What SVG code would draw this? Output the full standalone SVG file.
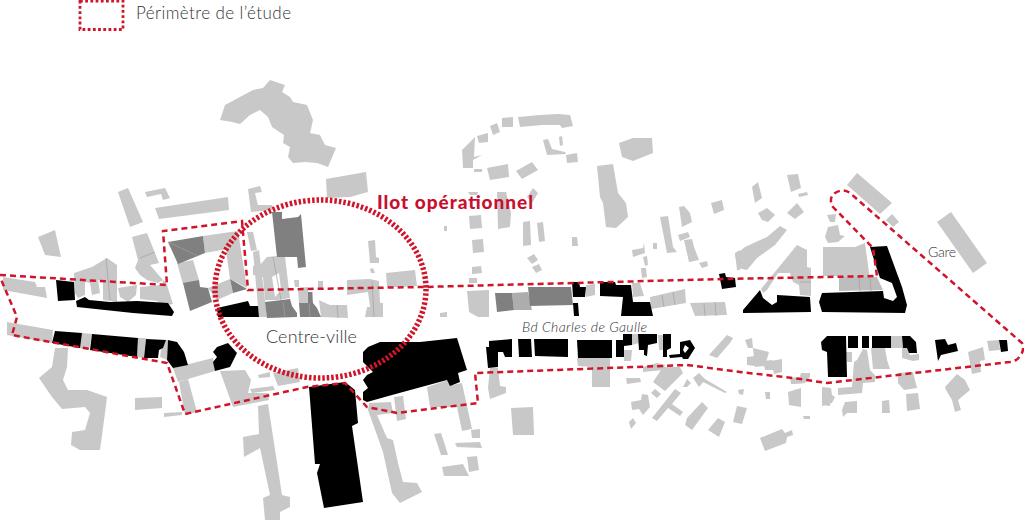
<svg xmlns="http://www.w3.org/2000/svg" width="1024" height="524" viewBox="0 0 1024 524">
<style>
.l polygon{fill:#c8c8c8}
.m polygon{fill:#808080}
.b polygon,.b path{fill:#000}
.s line{stroke:#a0a0a0;stroke-width:.7}
.t{font-family:Lato,"Open Sans","Liberation Sans",sans-serif;fill:#333;font-weight:300}
.per{fill:none;stroke:#d0142a;stroke-width:2.500;stroke-dasharray:6 4}
</style>
<rect width="1024" height="524" fill="#fff"/>
<g id="batiments-clairs" class="l">
<polygon points="270,80 285,85 282,92 290,97 293,102 307,105 313,120 310,133 320,135 325,145 336,148 328,167 317,163 305,162 293,163 288,157 290,147 283,143 284,135 272,127 268,117 260,110 250,115 240,124 232,122 220,120 225,105 253,90 263,88"/>
<polygon points="326,179 366,172 368,192 350,197 327,198"/>
<polygon points="118,192 128,188 143,222 130,227"/>
<polygon points="145,192 165,188 170,198 163,200 161,194 147,197"/>
<polygon points="155,208 228,197 229,210 159,219"/>
<polygon points="38,237 55,230 61,257 45,255"/>
<polygon points="248,189 260,186 262,192 255,193 258,205 272,205 273,210 251,212"/>
<polygon points="132,237 147,233 159,263 150,265 163,280 158,283 147,280 140,275 135,268 138,260"/>
<polygon points="74,273 92,267 107,258 117,265 117,302 103,300 103,280 98,280 100,293 92,295 90,283 85,282 85,295 78,298 75,293"/>
<polygon points="118,288 137,285 136,295 128,302 120,297"/>
<polygon points="140,287 162,285 163,280 166,282 173,304 163,306 157,301 140,299"/>
<polygon points="3,277 35,282 37,287 45,287 47,298 3,290"/>
<polygon points="7,322 53,330 52,343 7,335"/>
<polygon points="82,333 92,334 89,350 79,348"/>
<polygon points="138,338 146,338 144,358 137,357"/>
<polygon points="166,340 168,340 167,360 160,357 161,350"/>
<polygon points="203,236 238,231 227,249 205,253"/>
<polygon points="238,231 247,288 230,279 226,250"/>
<polygon points="208,288 230,279 233,293 217,300"/>
<polygon points="177,263 193,260 199,280 183,284"/>
<polygon points="247,232 253,232 257,250 251,251"/>
<polygon points="253,252 259,250 267,317 259,317"/>
<polygon points="253,266 260,265 267,257 277,256 285,257 290,298 277,300 265,300 263,277 253,275"/>
<polygon points="298,288 308,287 308,292 313,292 312,303 299,303"/>
<polygon points="294,280 299,280 299,287 295,287"/>
<polygon points="318,281 323,281 323,290 318,290"/>
<polygon points="319,300 323,302 330,305 347,305 348,318 321,317"/>
<polygon points="347,280 370,279 379,281 380,303 383,303 383,317 365,317 367,307 370,307 368,292 347,295"/>
<polygon points="386,273 415,270 417,286 397,287 387,287"/>
<polygon points="368,241 375,240 376,257 379,258 379,263 370,263"/>
<polygon points="370,269 373,268 375,273 371,273"/>
<polygon points="273,373 298,368 300,382 278,386"/>
<polygon points="258,375 270,372 270,377 259,378"/>
<polygon points="173,368 213,358 215,371 178,382"/>
<polygon points="179,382 188,379 197,412 185,415"/>
<polygon points="220,371 245,370 251,380 248,393 268,393 269,400 233,407"/>
<polygon points="250,389 273,386 275,390 252,393"/>
<polygon points="135,398 162,397 162,408 135,410"/>
<polygon points="164,413 182,412 182,415 164,417"/>
<polygon points="55,348 68,348 67,367 63,380 68,390 87,390 107,397 105,413 100,450 80,450 71,445 72,432 85,430 90,413 85,407 62,409 52,397 39,378 52,367"/>
<polygon points="258,406 268,404 282,495 290,497 290,507 280,512 280,520 265,520 263,498 270,495 260,448 244,457 243,437 259,434"/>
<polygon points="427,387 448,380 452,385 462,383 472,429 462,431 457,407 430,407"/>
<polygon points="471,430 480,429 480,438 472,438"/>
<polygon points="369,403 391,402 393,413 377,415 387,438 393,440 398,463 403,482 417,483 422,492 400,503 392,493 383,452 368,410"/>
<polygon points="394,397 403,396 406,419 397,421"/>
<polygon points="434,434 441,433 445,445 448,455 441,455"/>
<polygon points="455,443 480,442 482,448 457,447"/>
<polygon points="467,457 477,456 479,470 469,472"/>
<polygon points="442,467 463,464 469,476 444,476"/>
<polygon points="511,408 533,407 534,435 513,435"/>
<polygon points="462,150 475,137 474,157 482,155 473,160 473,168 463,168"/>
<polygon points="477,136 488,133 488,142 479,143"/>
<polygon points="490,126 497,123 500,132 493,135"/>
<polygon points="502,118 513,117 513,127 502,127"/>
<polygon points="518,117 540,115 558,114 570,115 573,126 562,128 560,125 542,125 520,127"/>
<polygon points="543,140 548,139 552,149 565,152 566,154 547,155"/>
<polygon points="559,137 562,136 563,145 560,146"/>
<polygon points="566,155 577,153 578,162 567,163"/>
<polygon points="487,168 508,164 509,177 490,180"/>
<polygon points="516,171 532,162 538,170 522,179"/>
<polygon points="474,169 482,169 482,172 474,172"/>
<polygon points="619,143 633,138 652,138 653,153 633,161 622,157"/>
<polygon points="597,166 613,164 618,193 626,203 628,217 616,228 606,227 603,203 600,197"/>
<polygon points="497,192 506,192 511,213 510,227 498,229"/>
<polygon points="527,197 533,188 538,193 532,203"/>
<polygon points="468,192 478,192 477,195 470,195"/>
<polygon points="469,216 481,215 482,228 470,229"/>
<polygon points="444,226 447,226 447,231 444,231"/>
<polygon points="472,240 483,239 484,252 473,253"/>
<polygon points="523,222 530,221 531,245 523,246"/>
<polygon points="537,223 543,222 545,241 539,242"/>
<polygon points="572,237 577,237 578,246 572,246"/>
<polygon points="527,258 534,254 538,260 532,264"/>
<polygon points="532,267 539,264 542,270 536,273"/>
<polygon points="472,267 481,266 482,273 472,274"/>
<polygon points="469,278 477,278 477,283 469,283"/>
<polygon points="467,291 489,290 489,317 478,317 469,312"/>
<polygon points="440,313 447,312 447,317 440,317"/>
<polygon points="632,250 643,248 644,243 645,253 633,257"/>
<polygon points="653,243 657,243 657,249 653,249"/>
<polygon points="643,257 647,256 648,265 645,266"/>
<polygon points="641,268 646,268 647,277 642,278"/>
<polygon points="660,217 668,216 673,247 677,252 667,253"/>
<polygon points="679,207 684,206 690,213 692,222 682,227"/>
<polygon points="678,235 688,232 690,237 680,241"/>
<polygon points="684,240 692,239 694,247 699,260 689,262"/>
<polygon points="699,263 707,261 708,266 702,268"/>
<polygon points="711,203 722,200 724,210 714,214"/>
<polygon points="735,253 740,250 740,270 737,270"/>
<polygon points="650,297 685,289 686,303 651,309"/>
<polygon points="690,303 725,302 727,315 695,316"/>
<polygon points="512,293 528,292 532,310 514,310" style="fill:#adadad"/>
<polygon points="586,285 595,284 595,295 586,297"/>
<polygon points="632,283 640,283 644,296 633,297"/>
<polygon points="577,358 610,358 610,387 592,387 592,367 578,366"/>
<polygon points="624,350 632,350 631,361 624,361"/>
<polygon points="658,335 663,335 664,350 659,350"/>
<polygon points="632,334 638,334 639,343 632,345"/>
<polygon points="490,368 498,368 500,386 506,387 506,393 490,399 488,388"/>
<polygon points="709,355 727,335 733,338 730,343 717,358"/>
<polygon points="653,382 663,367 680,367 683,373 665,391"/>
<polygon points="643,367 657,363 665,365 663,370 643,372"/>
<polygon points="626,378 640,378 641,382 627,384"/>
<polygon points="651,393 655,389 661,394 657,398"/>
<polygon points="631,402 641,400 642,394 648,395 650,407 643,415 639,409 632,410"/>
<polygon points="652,418 675,389 681,393 672,404 683,412 680,416 668,408 657,421"/>
<polygon points="629,422 633,418 636,423 631,429"/>
<polygon points="683,387 687,379 691,383 687,387"/>
<polygon points="693,378 699,373 705,379 727,392 725,393 703,382 699,387"/>
<polygon points="685,425 687,418 702,402 708,408 692,430"/>
<polygon points="708,430 718,418 725,422 719,437"/>
<polygon points="738,390 744,389 743,395 739,394"/>
<polygon points="733,422 737,406 747,408 742,424"/>
<polygon points="765,392 770,392 770,399 766,399"/>
<polygon points="760,438 782,429 785,433 792,430 793,435 787,437 786,443 765,451"/>
<polygon points="788,392 801,388 801,407 789,405"/>
<polygon points="803,416 810,416 810,419 804,419"/>
<polygon points="822,388 830,388 830,406 822,405"/>
<polygon points="791,378 804,378 805,383 792,384"/>
<polygon points="800,375 809,373 810,376 802,378"/>
<polygon points="787,175 798,174 801,188 791,192"/>
<polygon points="798,194 807,192 808,195 799,197"/>
<polygon points="752,187 758,182 762,198 755,203"/>
<polygon points="787,213 797,203 804,212 795,219"/>
<polygon points="758,213 767,208 775,215 768,222 762,220"/>
<polygon points="735,255 745,247 767,237 780,226 787,230 775,245 757,258 747,270 738,268"/>
<polygon points="827,215 836,214 835,222 830,222"/>
<polygon points="828,227 838,225 840,235 845,236 838,242 828,243 825,237"/>
<polygon points="847,185 857,173 892,203 880,214"/>
<polygon points="886,220 892,214 899,222 893,227"/>
<polygon points="937,222 951,212 987,263 973,273"/>
<polygon points="823,247 855,247 865,243 870,280 840,280 840,276 823,276"/>
<polygon points="839,277 877,277 883,290 839,291" style="fill:#bdbdbd"/>
<polygon points="761,289 797,245 807,250 807,267 811,268 811,296 800,295 799,285 793,282 790,273 778,273 767,290 763,293"/>
<polygon points="891,336 902,336 903,348 891,348"/>
<polygon points="902,348 907,348 910,355 919,354 919,360 913,361 902,358"/>
<polygon points="846,352 852,352 852,362 847,362"/>
<polygon points="863,349 867,350 870,370 875,375 875,382 863,383 862,393 838,395 838,388 852,387 854,362 857,360"/>
<polygon points="871,348 885,348 887,360 890,369 873,369"/>
<polygon points="987,341 999,340 1000,350 989,351"/>
<polygon points="968,352 983,347 985,360 980,361 981,372 972,374"/>
<polygon points="745,340 752,338 753,348 748,348"/>
<polygon points="753,348 769,352 765,366 755,367"/>
<polygon points="747,357 755,356 755,366 747,365"/>
<polygon points="763,361 772,360 775,370 765,370"/>
<polygon points="771,361 782,359 782,372 774,374"/>
<polygon points="790,378 800,377 801,373 810,373 810,377 805,383 791,384"/>
<polygon points="822,387 831,388 832,395 835,397 832,403 822,406"/>
<polygon points="845,402 857,401 857,413 847,413 843,417 842,410"/>
<polygon points="882,401 889,400 890,413 882,413"/>
<polygon points="906,394 918,393 920,409 907,411"/>
<polygon points="898,373 913,372 917,388 904,390 898,383"/>
<polygon points="945,387 957,374 965,380 970,390 958,400 961,410 955,412 952,400 946,390"/>
</g>
<polygon points="272,277 279,273 281,290 275,297" fill="#fff"/>
<g id="batiments-gris" class="m">
<polygon points="168,242 203,236 205,253 178,264"/>
<polygon points="183,283 199,280 200,287 208,288 212,302 190,311"/>
<polygon points="230,279 247,289 233,293"/>
<polygon points="272,212 282,212 282,219 298,217 301,214 306,267 298,268 297,257 277,257"/>
<polygon points="265,302 290,299 292,306 297,313 297,317 267,318"/>
<polygon points="308,292 312,292 313,303 317,308 321,317 300,317 299,303 308,303"/>
<polygon points="495,293 512,293 514,310 497,312"/>
<polygon points="528,287 571,287 573,305 530,306"/>
</g>
<g id="separations" class="s">
<line x1="168" y1="242" x2="198" y2="256"/>
<line x1="106" y1="258" x2="110" y2="300"/>
<line x1="140" y1="258" x2="155" y2="252"/>
<line x1="273" y1="257" x2="281" y2="300"/>
<line x1="283" y1="302" x2="285" y2="317"/>
<line x1="309" y1="303" x2="310" y2="317"/>
<line x1="337" y1="305" x2="338" y2="318"/>
<line x1="372" y1="281" x2="374" y2="317"/>
<line x1="662" y1="295" x2="664" y2="307"/>
<line x1="673" y1="292" x2="675" y2="305"/>
<line x1="704" y1="303" x2="705" y2="316"/>
<line x1="715" y1="302" x2="716" y2="316"/>
<line x1="859" y1="277" x2="860" y2="291"/>
<line x1="870" y1="277" x2="871" y2="291"/>
<line x1="800" y1="282" x2="811" y2="282"/>
</g>
<g id="batiments-noirs" class="b">
<polygon points="56,280 74,282 75,300 58,301"/>
<polygon points="76,301 85,297 89,300 110,302 137,301 168,303 174,312 172,316 133,313 77,307"/>
<polygon points="55,331 82,333 80,348 52,343"/>
<polygon points="92,334 138,338 137,357 90,350"/>
<polygon points="146,339 166,340 163,348 159,350 158,358 144,358"/>
<polygon points="168,340 177,342 184,352 188,365 173,368 167,360"/>
<polygon points="217,347 228,343 237,353 230,367 215,371 213,362 217,357 213,352"/>
<polygon points="217,308 248,301 250,306 258,306 259,317 218,317"/>
<polygon points="309,387 345,382 355,390 358,423 352,426 363,502 324,508 317,473 320,464 315,464"/>
<polygon points="363,352 368,347 380,342 420,342 457,338 467,370 458,373 460,382 450,386 447,380 392,395 367,402 363,400 363,392 368,388 363,380 367,375 373,372 363,362"/>
<polygon points="572,282 579,282 580,287 586,287 585,297 573,297"/>
<polygon points="573,303 578,303 579,316 574,316"/>
<polygon points="600,282 615,282 616,285 631,285 633,302 650,302 653,316 621,316 623,297 600,296"/>
<polygon points="486,347 489,347 489,341 512,339 512,357 505,357 503,352 498,352 498,367 488,368"/>
<polygon points="518,339 531,339 532,357 519,357"/>
<polygon points="534,339 568,339 568,357 535,356"/>
<polygon points="577,340 612,340 612,358 578,358"/>
<polygon points="616,340 623,340 623,334 632,334 632,345 624,346 624,357 616,357"/>
<polygon points="638,334 657,334 657,343 648,345 647,356 644,355 644,350 639,350"/>
<polygon points="663,334 671,334 671,348 667,350 667,357 663,357"/>
<path fill-rule="evenodd" d="M680 342L690 340L695 348L688 359L683 359L682 357L670 358L669 355L680 354ZM685 345L689 348L685 353L683 350Z"/>
<polygon points="719,274 725,273 726,277 735,278 736,287 722,289"/>
<polygon points="743,310 760,290 763,298 772,305 777,302 777,295 810,297 811,312 743,313"/>
<polygon points="870,247 887,246 902,287 907,305 905,313 822,312 819,302 822,293 883,291 884,298 893,301 897,297 892,283 880,278 875,263"/>
<polygon points="821,342 827,336 846,336 847,377 828,377 827,352 822,350"/>
<polygon points="848,336 858,336 858,348 848,348"/>
<polygon points="862,336 869,336 869,348 862,348"/>
<polygon points="872,336 891,336 891,348 872,348"/>
<polygon points="902,336 910,336 916,342 917,353 909,353 907,348 903,348"/>
<polygon points="935,340 945,339 948,345 956,343 958,351 941,355 938,361"/>
<polygon points="999,340 1007,340 1008,351 1001,352"/>
</g>
<g id="perimetre">
<path class="per" d="M0 275L167 285L163 231L242 221L248 290L423 287L573 283L723 279L877 276L873 248L833 207Q828 198 835 193Q843 188 850 193L1022 343Q1025 350 1020 356Q1017 361 1010 362L827 383L793 378L740 372L687 365L475 373L478 403L397 413L367 407L345 383L307 387L185 414L167 363L12 335L17 317L0 277"/>
<rect class="per" x="80" y="1" width="43" height="28.500" style="stroke-width:2.800;stroke-dasharray:2.800 2.400"/>
</g>
<ellipse id="ilot" cx="320.500" cy="289" rx="105.500" ry="89" fill="none" stroke="#d0142a" stroke-width="5.500" stroke-dasharray="2.500 2"/>
<g id="textes">
<text class="t" x="136" y="19" font-size="17" textLength="155">Périmètre de l’étude</text>
<text x="377" y="209" font-size="19" font-weight="900" fill="#c8102e" font-family="Lato,'Open Sans','Liberation Sans',sans-serif" textLength="156">Ilot opérationnel</text>
<text class="t" x="266" y="343" font-size="18" textLength="91">Centre-ville</text>
<text class="t" x="522" y="332" font-size="14" font-style="italic" textLength="125">Bd Charles de Gaulle</text>
<text class="t" x="928" y="257" font-size="14" textLength="28">Gare</text>
</g>
</svg>
